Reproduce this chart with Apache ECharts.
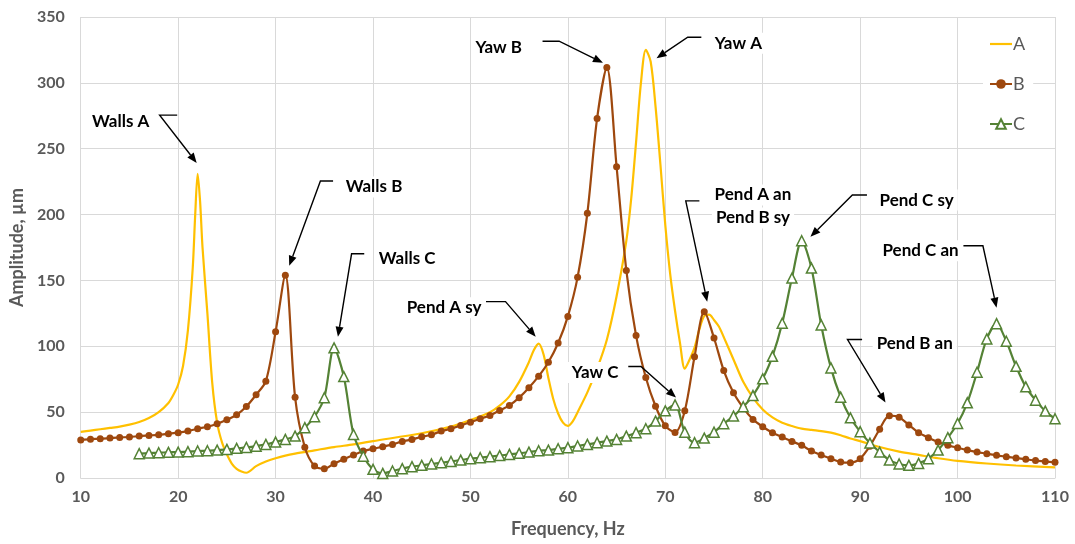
<!DOCTYPE html>
<html>
<head>
<meta charset="utf-8">
<script src="https://cdn.jsdelivr.net/npm/echarts@6/dist/echarts.min.js"></script>
<style>
html,body{margin:0;padding:0;background:#fff;}
#chart{width:1075px;height:544px;}
</style>
</head>
<body>
<div id="chart"></div>
<script>
// ---- data ----
var seriesNames = ['A', 'B', 'C'];

// Series A (smooth line, no markers): frequency / amplitude pairs
var freqA = [10,11,12,13,14,15,16,17,18,19,19.5,20,20.5,21,21.5,21.75,22,22.25,22.5,23,23.5,24,24.5,25,25.5,26,26.5,27,28,29,30,31,32,34,36,38,40,45,48,50,52,53,54,55,56,56.5,57,57.5,58,58.5,59,59.5,60,60.5,61,62,63,64,65,66,66.5,67,67.5,68,68.5,69,69.5,70,70.5,71,71.5,72,72.5,73,73.5,74,74.5,75,75.5,76,77,78,79,80,81,82,83,84,85,86,87,88,89,90,92,94,96,98,100,103,106,110];
var ampA  = [35,36,37,38,39,40.5,42.5,45.5,50,57,63,71,85,112,160,200,231,210,175,125,72,42,27,18,11,7,5,4,9,12.5,15,17,18.5,21,23.5,25.5,28,34,39,44,50,55,62,73,88,97,102,94,76,60,49,42,39.5,43,50,65,83,105,138,180,212,255,300,325,316,282,238,192,155,127,103,83,90,99,113,123,124,120,115,107,90,73,61,52,46,42,39.5,37.5,36.5,35.6,34.5,32.5,30,28,23.5,20,17.5,15,13,11,9.5,8];

// Series B: one point per Hz from 10 to 110 Hz
var freqStartB = 10;
var ampB = [28.8,29.5,29.8,30.3,30.8,31.1,31.8,32.3,32.8,33.6,
            34.4,35.6,37.4,38.9,41.2,44.2,48.0,54.3,63.2,73.5,
            111,154,61.4,23.3,9.1,7.1,10.9,14.3,17.4,20.5,
            22.2,23.8,25.5,27.8,29.3,31.3,32.8,35.6,37.4,39.9,
            42.4,45.0,47.5,51.3,55.1,61,68.5,77.3,87.9,102.5,
            122.7,152.5,201,273,311.6,236.4,157.6,108.1,76.3,54.5,
            39.6,34.6,51,92,126.3,106.3,81.6,64.7,53.3,44.5,
            38.9,34.4,31.1,27.8,24.8,20.5,17.4,14.7,12.1,11.6,
            14.7,24.2,37,47.3,46.2,40.3,34.4,30.6,27.3,24.8,
            23.0,21.2,19.7,18.5,17.2,16.2,15.2,14.2,13.2,12.6,
            11.9];

// Series C: one point per Hz from 16 to 110 Hz
var freqStartC = 16;
var ampC = [18.5,18.9,19.2,19.5,19.7,20.0,20.5,20.7,21.2,21.7,
            22.5,23.2,24.2,25.5,27.3,29.3,31.8,38.2,46.5,60.9,
            98.8,77,33,16.5,6.6,3.5,5.3,7.1,8.6,9.6,
            10.6,11.6,12.6,13.6,14.7,15.4,16.2,17.0,17.9,18.7,
            19.7,20.7,21.2,22.2,23.0,24.3,25.5,26.8,28.0,29.3,
            31.8,34.4,37.4,43.2,51,55.5,34.8,26.8,30.3,34.8,
            41.2,47,54.1,62.6,75.3,92.4,117.5,151.8,180.1,159.4,
            116.2,83.6,61.4,45.7,35.2,26.5,19.7,13.6,10.6,9.6,
            11.1,14.7,21.2,30.6,41.4,57.1,80.3,105.6,117.2,103.8,
            84.8,69.2,59.1,50.8,45.0];

// Axis settings
var xMin = 10, xMax = 110, xStep = 10;
var yMin = 0, yMax = 350, yStep = 50;
var xTitle = 'Frequency, Hz';
var yTitle = 'Amplitude, µm';

// Annotations: text lines, text anchor, leader path (data coordinates), last point = arrow tip
var annotations = [
  {text:['Walls A'], at:[14.1,271], leader:[[19.9,275.5],[18.1,275.5],[21.9,239.2]]},
  {text:['Walls B'], at:[40.1,221], leader:[[35.9,225.5],[34.6,225.5],[31.4,161.1]]},
  {text:['Walls C'], at:[43.5,166.4], leader:[[39.1,170.2],[37.8,170.2],[36.4,107.3]]},
  {text:['Yaw B'], at:[52.9,327], leader:[[57.4,331.6],[59.1,331.6],[63.6,315.3]]},
  {text:['Yaw A'], at:[77.5,330], leader:[[73.7,334.6],[72.3,334.6],[69.1,318.7]]},
  {text:['Pend A sy'], at:[47.3,129.3], leader:[[51.6,133.9],[53.6,133.9],[56.7,107.3]]},
  {text:['Yaw C'], at:[62.8,80.1], leader:[[66.2,84.6],[67.5,84.6],[71.1,61.1]]},
  {text:['Pend A an','Pend B sy'], at:[79.0,206.2], leader:[[73.5,210.4],[72.1,210.4],[74.3,133.9]]},
  {text:['Pend C sy'], at:[95.8,211], leader:[[90.7,214.9],[89.2,214.9],[84.9,183.1]]},
  {text:['Pend C an'], at:[96.2,172.5], leader:[[100.6,176.3],[102.6,176.3],[104.0,129.3]]},
  {text:['Pend B an'], at:[95.6,102], leader:[[90.2,105.1],[88.7,105.1],[92.6,57.3]]}
];

// ---- build ----
function pairs(xs, ys) { return ys.map(function (v, i) { return [xs[i], v]; }); }
function pairsStep(start, ys) { return ys.map(function (v, i) { return [start + i, v]; }); }

var FONT = 'Lato, "Open Sans", sans-serif';
var chart = echarts.init(document.getElementById('chart'), null, {renderer: 'canvas'});

var option = {
  animation: false,
  backgroundColor: '#ffffff',
  grid: {left: 78, right: 20, top: 17, bottom: 66, containLabel: false},
  legend: {
    data: [
      {name: 'A', icon: 'path://M0,0 L22,0 L22,2.2 L0,2.2 Z'},
      {name: 'B'},
      {name: 'C'}
    ],
    orient: 'vertical',
    left: 983,
    top: 31,
    itemGap: 22,
    itemWidth: 22,
    itemHeight: 12,
    padding: [4, 8, 4, 6],
    backgroundColor: '#ffffff',
    textStyle: {color: '#595959', fontSize: 18, fontFamily: FONT, padding: [0, 0, 0, -4]}
  },
  xAxis: {
    type: 'value', min: xMin, max: xMax, interval: xStep,
    name: xTitle, nameLocation: 'middle', nameGap: 42,
    nameTextStyle: {color: '#595959', fontSize: 18, fontWeight: 'bold', fontFamily: FONT},
    axisLine: {show: true, lineStyle: {color: '#d9d9d9', width: 1}},
    axisTick: {show: false},
    axisLabel: {color: '#595959', fontSize: 16, fontWeight: 'bold', fontFamily: FONT, margin: 11},
    splitLine: {show: true, lineStyle: {color: '#d9d9d9', width: 1}}
  },
  yAxis: {
    type: 'value', min: yMin, max: yMax, interval: yStep,
    name: yTitle, nameLocation: 'middle', nameGap: 51, nameRotate: 90,
    nameTextStyle: {color: '#595959', fontSize: 18, fontWeight: 'bold', fontFamily: FONT},
    axisLine: {show: false},
    axisTick: {show: false},
    axisLabel: {color: '#595959', fontSize: 16, fontWeight: 'bold', fontFamily: FONT, margin: 16},
    splitLine: {show: true, lineStyle: {color: '#d9d9d9', width: 1}}
  },
  series: [
    {
      name: 'A', type: 'line', smooth: 0.3, symbol: 'none',
      data: pairs(freqA, ampA),
      lineStyle: {color: '#FFC000', width: 2.2},
      itemStyle: {color: '#FFC000'},
      z: 2
    },
    {
      name: 'B', type: 'line', smooth: 0.3, symbol: 'circle', symbolSize: 7,
      data: pairsStep(freqStartB, ampB),
      lineStyle: {color: '#9E480E', width: 2.2},
      itemStyle: {color: '#9E480E'},
      z: 3
    },
    {
      name: 'C', type: 'line', smooth: 0.3, symbol: 'triangle', symbolSize: 10,
      data: pairsStep(freqStartC, ampC),
      lineStyle: {color: '#548235', width: 2.2},
      itemStyle: {color: '#ffffff', borderColor: '#548235', borderWidth: 1.5},
      z: 4
    }
  ]
};
chart.setOption(option);

function buildAnnotations() {
  var g = [];
  annotations.forEach(function (a) {
    var pts = a.leader.map(function (p) { return chart.convertToPixel({gridIndex: 0}, p); });
    var n = pts.length;
    var p1 = pts[n - 2], p2 = pts[n - 1];
    var ang = Math.atan2(p2[1] - p1[1], p2[0] - p1[0]);
    var L = 10, W = 4;
    var base = [p2[0] - L * Math.cos(ang), p2[1] - L * Math.sin(ang)];
    var linePts = pts.slice(0, n - 1).concat([base]);
    g.push({type: 'polyline', z: 100, shape: {points: linePts},
            style: {stroke: '#000', lineWidth: 1.4, fill: null}});
    var nx = -Math.sin(ang), ny = Math.cos(ang);
    g.push({type: 'polygon', z: 100, shape: {points: [
      p2,
      [base[0] + nx * W, base[1] + ny * W],
      [base[0] - nx * W, base[1] - ny * W]
    ]}, style: {fill: '#000'}});
    var c = chart.convertToPixel({gridIndex: 0}, a.at);
    var lh = 23;
    a.text.forEach(function (t, i) {
      g.push({type: 'text', z: 101, x: c[0], y: c[1] + (i - (a.text.length - 1) / 2) * lh,
        style: {text: t, fill: '#000', font: 'bold 17px ' + FONT, align: 'center',
                verticalAlign: 'middle', backgroundColor: '#ffffff', padding: [2, 4]}});
    });
  });
  chart.setOption({graphic: g});
}
buildAnnotations();
</script>
</body>
</html>
